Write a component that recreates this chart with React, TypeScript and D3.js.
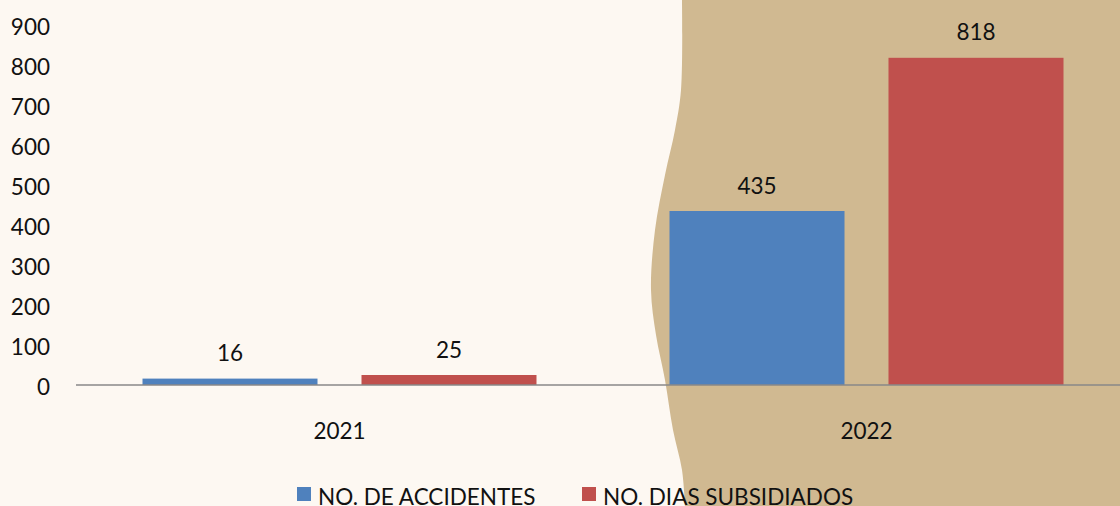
import React, { useEffect, useRef } from 'react'
import * as d3 from 'd3'

const years = ['2021', '2022']
const seriesNames = ['NO. DE ACCIDENTES', 'NO. DIAS SUBSIDIADOS']
const accidentes = [16, 435]
const diasSubsidiados = [25, 818]
const yTicks = [0, 100, 200, 300, 400, 500, 600, 700, 800, 900]

const colors = ['#4f81bd', '#c0504d']
const W = 1120
const H = 506

const App = () => {
  const ref = useRef<SVGSVGElement>(null)

  useEffect(() => {
    const svg = d3.select(ref.current)
    svg.selectAll('*').remove()
    const font = 'Lato, "Open Sans", sans-serif'
    const fs = '22.5px'

    svg.append('rect').attr('width', W).attr('height', H).attr('fill', '#fdf8f2')

    // decorative tan shape on the right
    const edge: [number, number][] = [
      [682, 0], [681, 90], [675, 130], [665, 175], [655, 230], [651, 290],
      [656, 335], [665, 380], [673, 430], [682, 470], [685, 506]
    ]
    const line = d3.line().curve(d3.curveCatmullRom)
    const shape = line(edge) + ` L${W},${H} L${W},0 Z`
    svg.append('path').attr('d', shape).attr('fill', '#d0b991')

    const x = d3.scaleBand().domain(years).range([76, 1130]).paddingInner(0).paddingOuter(0)
    const y = d3.scaleLinear().domain([0, 900]).range([385, 25])
    const inner = d3.scaleBand().domain(seriesNames).range([0, x.bandwidth()])
      .paddingInner(0.2009).paddingOuter(0.3037)

    const data = years.map((yr, i) => ({ yr, vals: [accidentes[i], diasSubsidiados[i]] }))

    const g = svg.append('g')
    data.forEach(d => {
      d.vals.forEach((v, j) => {
        const bx = x(d.yr)! + inner(seriesNames[j])!
        g.append('rect')
          .attr('x', bx).attr('y', y(v))
          .attr('width', inner.bandwidth()).attr('height', y(0) - y(v))
          .attr('fill', colors[j])
        g.append('text')
          .attr('x', bx + inner.bandwidth() / 2).attr('y', y(v) - 26)
          .attr('text-anchor', 'middle').attr('dominant-baseline', 'central')
          .style('font-family', font).style('font-size', fs).attr('fill', '#111')
          .text(v)
      })
    })

    // axis line
    svg.append('line').attr('x1', 76).attr('x2', 1130).attr('y1', y(0)).attr('y2', y(0))
      .attr('stroke', '#888').attr('stroke-width', 1.5)

    // y tick labels
    svg.selectAll('.yt').data(yTicks).enter().append('text')
      .attr('x', 50).attr('y', d => y(d) + 1)
      .attr('text-anchor', 'end').attr('dominant-baseline', 'central')
      .style('font-family', font).style('font-size', fs).attr('fill', '#111')
      .text(d => d)

    // x labels
    svg.selectAll('.xt').data(years).enter().append('text')
      .attr('x', d => x(d)! + x.bandwidth() / 2).attr('y', 430)
      .attr('text-anchor', 'middle').attr('dominant-baseline', 'central')
      .style('font-family', font).style('font-size', fs).attr('fill', '#111')
      .text(d => d)

    // legend
    const legX = [297, 582]
    seriesNames.forEach((s, i) => {
      svg.append('rect').attr('x', legX[i]).attr('y', 487).attr('width', 14).attr('height', 14)
        .attr('fill', colors[i])
      svg.append('text').attr('x', legX[i] + 21).attr('y', 496)
        .attr('dominant-baseline', 'central')
        .style('font-family', font).style('font-size', fs).attr('fill', '#111')
        .text(s)
    })
  }, [])

  return <svg ref={ref} width={W} height={H} style={{ position: 'absolute', left: 0, top: 0 }} />
}

export default App
